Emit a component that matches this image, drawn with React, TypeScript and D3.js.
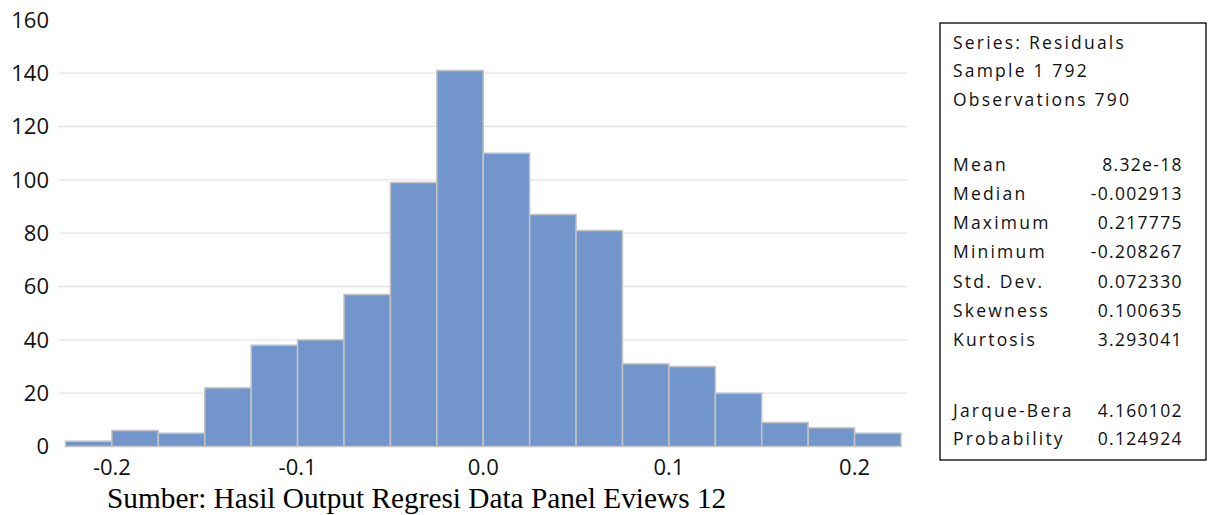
import React from "react";
import * as d3 from "d3";

// histogram bins (left edge of each bin) and counts
const binLefts = [
  -0.225, -0.2, -0.175, -0.15, -0.125, -0.1, -0.075, -0.05, -0.025,
  0, 0.025, 0.05, 0.075, 0.1, 0.125, 0.15, 0.175, 0.2,
];
const binWidth = 0.025;
const counts = [2, 6, 5, 22, 38, 40, 57, 99, 141, 110, 87, 81, 31, 30, 20, 9, 7, 5];

const xTicks = [-0.2, -0.1, 0.0, 0.1, 0.2];
const yTicks = [0, 20, 40, 60, 80, 100, 120, 140, 160];

const headerLines = ["Series: Residuals", "Sample 1 792", "Observations 790"];
const statLabels = ["Mean", "Median", "Maximum", "Minimum", "Std. Dev.", "Skewness", "Kurtosis"];
const statValues = ["8.32e-18", "-0.002913", "0.217775", "-0.208267", "0.072330", "0.100635", "3.293041"];
const testLabels = ["Jarque-Bera", "Probability"];
const testValues = ["4.160102", "0.124924"];

const caption = "Sumber: Hasil Output Regresi Data Panel Eviews 12";

const W = 1208;
const H = 515;

// plain hyphen instead of d3's unicode minus
const fmtX = (v: number) => d3.format(".1f")(v).replace("\u2212", "-");

export default function App() {
  const x = d3.scaleLinear().domain([-0.225, 0.225]).range([65.5, 901]);
  const y = d3.scaleLinear().domain([0, 160]).range([446.5, 19.8]);

  const gridLeft = 59;
  const gridRight = 907;
  const font = "'Open Sans', 'Liberation Sans', sans-serif";

  const boxX = 940;
  const boxY = 23;
  const textX = 953;
  const valLs = 1.3;
  const valX = 1181.5 + valLs;
  const lineH = 29.3;
  const statFs = 17.5;
  const labelLs = 2.2;

  return (
    <div style={{ position: "absolute", left: 0, top: 0 }}>
      <svg width={W} height={H} style={{ display: "block", background: "#fff" }}>
        {/* gridlines */}
        {yTicks
          .filter((t) => t > 0 && t < 160)
          .map((t) => (
            <line
              key={"g" + t}
              x1={gridLeft}
              x2={gridRight}
              y1={y(t)}
              y2={y(t)}
              stroke="#e3e3e3"
              strokeWidth={1.3}
            />
          ))}

        {/* bars */}
        {counts.map((c, i) => (
          <rect
            key={"b" + i}
            x={x(binLefts[i])}
            y={y(c)}
            width={x(binLefts[i] + binWidth) - x(binLefts[i])}
            height={y(0) - y(c)}
            fill="#7295cb"
            stroke="#c4c4c4"
            strokeWidth={1.5}
          />
        ))}

        {/* y tick labels */}
        {yTicks.map((t) => (
          <text
            key={"y" + t}
            x={49}
            y={y(t)}
            dy="0.35em"
            textAnchor="end"
            fontFamily={font}
            fontSize={22}
            fill="#111"
          >
            {t}
          </text>
        ))}

        {/* x tick labels */}
        {xTicks.map((t) => (
          <text
            key={"x" + t}
            x={x(t)}
            y={475}
            textAnchor="middle"
            fontFamily={font}
            fontSize={22}
            fill="#111"
          >
            {fmtX(t)}
          </text>
        ))}

        {/* caption */}
        <text
          x={107}
          y={508}
          fontFamily="'Liberation Serif', 'Times New Roman', serif"
          fontSize={29.3}
          fill="#000"
        >
          {caption}
        </text>

        {/* stats box */}
        <rect x={boxX} y={boxY} width={1206 - boxX} height={460 - boxY} fill="#fff" stroke="#000" strokeWidth={1.3} />
        {headerLines.map((s, i) => (
          <text key={"h" + i} x={textX} y={48.5 + i * 28.7} fontFamily={font} fontSize={statFs} letterSpacing={labelLs} fill="#111">
            {s}
          </text>
        ))}
        {statLabels.map((s, i) => (
          <g key={"s" + i}>
            <text x={textX} y={170.5 + i * lineH} fontFamily={font} fontSize={statFs} letterSpacing={labelLs} fill="#111">
              {s}
            </text>
            <text x={valX} y={170.5 + i * lineH} textAnchor="end" fontFamily={font} fontSize={statFs} letterSpacing={valLs} fill="#111">
              {statValues[i]}
            </text>
          </g>
        ))}
        {testLabels.map((s, i) => (
          <g key={"t" + i}>
            <text x={textX} y={416.5 + i * 28.7} fontFamily={font} fontSize={statFs} letterSpacing={labelLs} fill="#111">
              {s}
            </text>
            <text x={valX} y={416.5 + i * 28.7} textAnchor="end" fontFamily={font} fontSize={statFs} letterSpacing={valLs} fill="#111">
              {testValues[i]}
            </text>
          </g>
        ))}
      </svg>
    </div>
  );
}
